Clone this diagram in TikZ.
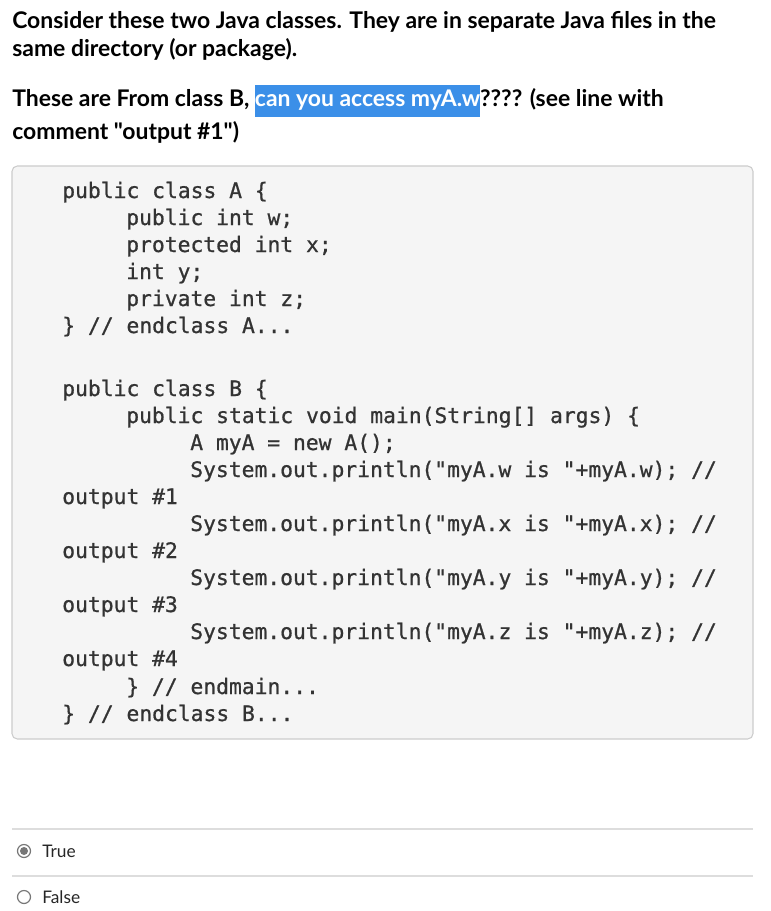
\documentclass[tikz,border=0pt]{standalone}
\usepackage{fontspec}
\setmainfont{Lato}
\newfontfamily\latob{Lato Bold}
\setmonofont[FakeBold=0.8,AutoFakeBold=0.8]{DejaVu Sans Mono}
\definecolor{hl}{HTML}{3B8FE8}
\definecolor{codebg}{HTML}{F5F5F5}
\definecolor{codeborder}{HTML}{CCCCCC}
\definecolor{codetxt}{HTML}{333333}
\definecolor{sep}{HTML}{DDDDDD}
\definecolor{radio}{HTML}{777777}
\begin{document}
\begin{tikzpicture}[x=0.75pt,y=-0.75pt,
  head/.style={anchor=base west,inner sep=0pt,font=\latob\fontsize{17.2}{20}\selectfont,text=black},
  code/.style={anchor=base west,inner sep=0pt,font=\ttfamily\fontsize{16}{19}\selectfont,text=codetxt},
  opt/.style={anchor=west,inner sep=0pt,font=\fontsize{13}{15}\selectfont,text=black!85},
  sepline/.style={draw=sep,line width=0.8pt}]
\useasboundingbox[fill=white] (0,0) rectangle (771,911);
\node[head] (h1) at (12,28) {Consider these two Java classes. They are in separate Java files in the};
\node[head] (h2) at (12,56) {same directory (or package).};
\node[head] (h3) at (12,106) {These are From class B, {\setlength\fboxsep{0pt}\colorbox{hl}{\rule[-8pt]{0pt}{24pt}\textcolor{white}{can you access myA.w}}}???? (see line with};
\node[head] (h4) at (12,139) {comment "output \#1")};
\draw[fill=codebg,draw=codeborder,rounded corners=4pt,line width=0.8pt] (12,166) rectangle (753,739);
\foreach \y/\x/\t [count=\i] in {
 198/62/{public class A \{},
 225/126/{public int w;},
 252/126/{protected int x;},
 279/126/{int y;},
 306/126/{private int z;},
 333/62/{\} // endclass A...},
 396/62/{public class B \{},
 423/126/{public static void main(String[] args) \{},
 450/190/{A myA = new A();},
 477/190/{System.out.println("myA.w is "+myA.w); //},
 504/62/{output \#1},
 531/190/{System.out.println("myA.x is "+myA.x); //},
 558/62/{output \#2},
 585/190/{System.out.println("myA.y is "+myA.y); //},
 612/62/{output \#3},
 639/190/{System.out.println("myA.z is "+myA.z); //},
 666/62/{output \#4},
 694/126/{\} // endmain...},
 721/62/{\} // endclass B...}}
 \node[code] (c\i) at (\x,\y) {\t};
\draw[sepline] (12,829) -- (753,829);
\draw[sepline] (12,876) -- (753,876);
\draw[draw=radio,line width=0.9pt] (24,851) circle (6.5);
\fill[radio] (24,851) circle (4);
\node[opt] (t) at (42,851) {True};
\draw[draw=radio,line width=0.9pt] (24,897) circle (6.5);
\node[opt] (f) at (42,897) {False};
\end{tikzpicture}
\end{document}
